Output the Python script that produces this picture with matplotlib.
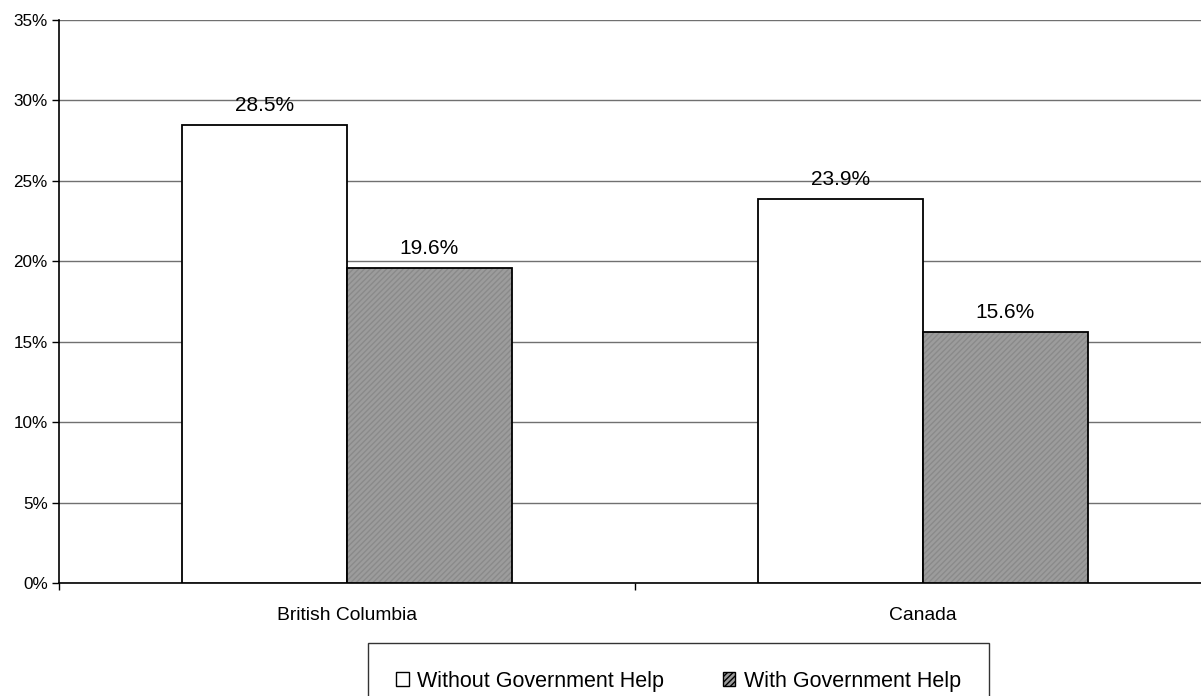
import matplotlib.pyplot as plt
import numpy as np
from matplotlib.ticker import FuncFormatter
from matplotlib.patches import Patch

plt.rcParams['font.family'] = ['Liberation Sans', 'DejaVu Sans']

# Data
categories = ['British Columbia', 'Canada']
without_help = [28.5, 23.9]
with_help = [19.6, 15.6]
series_names = ['Without Government Help', 'With Government Help']

fig = plt.figure(figsize=(12.01, 6.96), dpi=100)
ax = fig.add_axes([0.0491, 0.1624, 0.9592, 0.8089])

x = np.arange(len(categories))
w = 0.2865

ax.bar(x - w / 2, without_help, w, color='white', edgecolor='black',
       linewidth=1.3, zorder=3)
# gray textured bars: hatch layer then outline
ax.bar(x + w / 2, with_help, w, color='#9c9c9c', edgecolor='#8a8a8a',
       hatch='//////', linewidth=0, zorder=3)
ax.bar(x + w / 2, with_help, w, fill=False, edgecolor='black',
       linewidth=1.3, zorder=4)

# value labels
for xs, vals in [(x - w / 2, without_help), (x + w / 2, with_help)]:
    for xi, v in zip(xs, vals):
        ax.annotate(f"{v:.1f}%", (xi, v), textcoords="offset points",
                    xytext=(0, 7), ha='center', va='bottom', fontsize=15,
                    zorder=5)

ax.set_xlim(-0.5, 1.5)
ax.set_ylim(0, 35)
ax.set_yticks(range(0, 36, 5))
ax.yaxis.set_major_formatter(FuncFormatter(lambda v, p: f"{v:.0f}%"))
ax.tick_params(axis='y', labelsize=12.3, length=5, width=1, pad=3)

# category labels with tick marks between categories
ax.set_xticks([-0.5, 0.5, 1.5])
ax.set_xticklabels([])
ax.set_xticks(x, minor=True)
ax.set_xticklabels(categories, minor=True, fontsize=13.9)
ax.tick_params(axis='x', which='major', length=5, width=1)
ax.tick_params(axis='x', which='minor', length=0, pad=17)

ax.grid(axis='y', color='#707070', linewidth=1, zorder=0)
ax.set_axisbelow(True)
for s in ['top', 'right']:
    ax.spines[s].set_visible(False)
ax.spines['left'].set_linewidth(1.2)
ax.spines['bottom'].set_linewidth(1.2)

# legend
h1 = Patch(facecolor='white', edgecolor='black', linewidth=1)
h2 = Patch(facecolor='#9c9c9c', edgecolor='black', linewidth=1, hatch='//////')
leg = fig.legend([h1, h2], series_names, loc='center',
                 bbox_to_anchor=(678.5 / 1201, 1 - 681 / 696), ncol=2,
                 fontsize=15.5, frameon=True, fancybox=False, edgecolor='black',
                 handlelength=0.6, handleheight=0.6, handletextpad=0.4,
                 columnspacing=2.7, borderpad=1.3, borderaxespad=0)
leg.get_frame().set_linewidth(1)

plt.savefig('out.png', dpi=100)
